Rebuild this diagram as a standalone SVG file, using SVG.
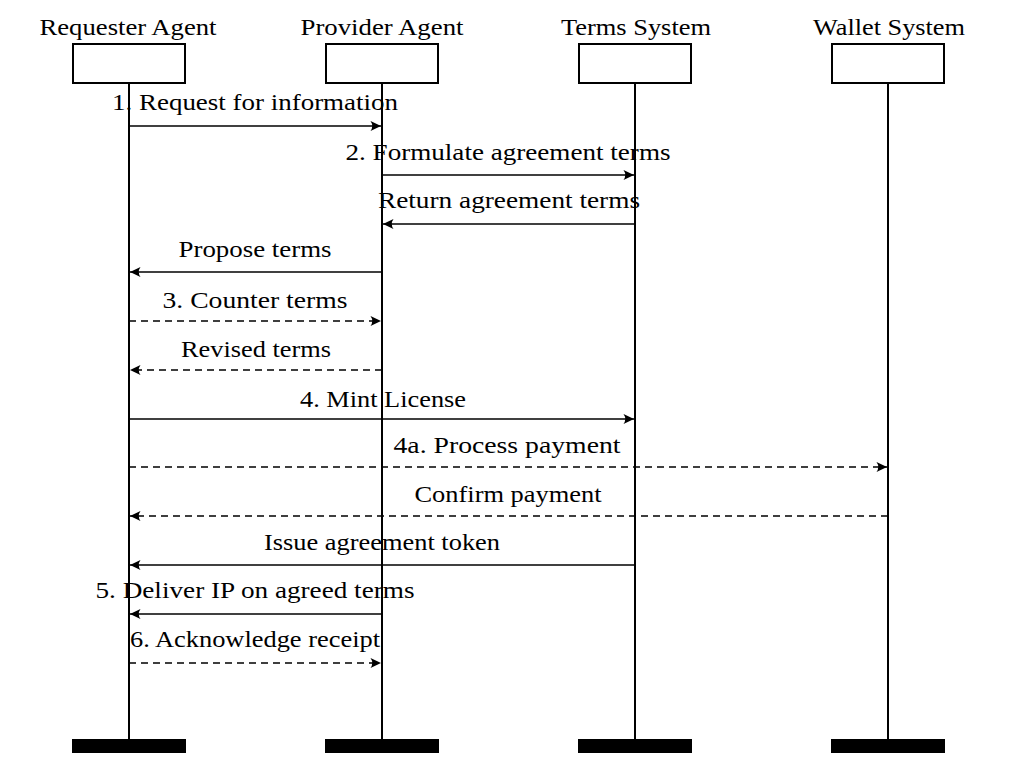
<svg xmlns="http://www.w3.org/2000/svg" width="1010" height="776" viewBox="0 0 1010 776">
<style>
text{font-family:"Liberation Serif","Times New Roman",serif;font-size:24px;fill:#000;text-anchor:middle}
.box{fill:#fff;stroke:#000;stroke-width:2}
.bar{fill:#000}
.life{stroke:#000;stroke-width:2;fill:none}
.msg{stroke:#000;stroke-width:1.7;fill:none;marker-end:url(#ah)}
.dash{stroke-dasharray:7 5}
</style>
<defs>
<marker id="ah" markerUnits="userSpaceOnUse" markerWidth="14" markerHeight="12" viewBox="-11 -6 12 12" refX="0" refY="0" orient="auto">
<path d="M0,0 L-10.5,-5 Q-7,0 -10.5,5 Z" fill="#000"/>
</marker>
</defs>
<rect width="1010" height="776" fill="#fff"/>
<g id="requester">
<text x="128" y="35" textLength="177" lengthAdjust="spacingAndGlyphs">Requester Agent</text>
<rect class="box" x="73" y="44" width="112" height="39"/>
<line class="life" x1="129" y1="83" x2="129" y2="740"/>
<rect class="bar" x="72" y="739" width="114" height="14"/>
</g>
<g id="provider">
<text x="382" y="35" textLength="163" lengthAdjust="spacingAndGlyphs">Provider Agent</text>
<rect class="box" x="326" y="44" width="112" height="39"/>
<line class="life" x1="382" y1="83" x2="382" y2="740"/>
<rect class="bar" x="325" y="739" width="114" height="14"/>
</g>
<g id="terms">
<text x="636" y="35" textLength="150" lengthAdjust="spacingAndGlyphs">Terms System</text>
<rect class="box" x="579" y="44" width="112" height="39"/>
<line class="life" x1="635" y1="83" x2="635" y2="740"/>
<rect class="bar" x="578" y="739" width="114" height="14"/>
</g>
<g id="wallet">
<text x="889" y="35" textLength="152" lengthAdjust="spacingAndGlyphs">Wallet System</text>
<rect class="box" x="832" y="44" width="112" height="39"/>
<line class="life" x1="888" y1="83" x2="888" y2="740"/>
<rect class="bar" x="831" y="739" width="114" height="14"/>
</g>
<g id="connectors">
<line class="msg" x1="129" y1="126" x2="381" y2="126"/>
<text x="255" y="110" textLength="286" lengthAdjust="spacingAndGlyphs">1. Request for information</text>
<line class="msg" x1="382" y1="175" x2="634" y2="175"/>
<text x="508" y="160" textLength="325" lengthAdjust="spacingAndGlyphs">2. Formulate agreement terms</text>
<line class="msg" x1="635" y1="224" x2="383" y2="224"/>
<text x="509" y="208" textLength="262" lengthAdjust="spacingAndGlyphs">Return agreement terms</text>
<line class="msg" x1="382" y1="272" x2="130" y2="272"/>
<text x="255" y="257" textLength="153" lengthAdjust="spacingAndGlyphs">Propose terms</text>
<line class="msg dash" x1="129" y1="321" x2="381" y2="321"/>
<text x="255" y="308" textLength="185" lengthAdjust="spacingAndGlyphs">3. Counter terms</text>
<line class="msg dash" x1="382" y1="370" x2="130" y2="370"/>
<text x="256" y="357" textLength="150" lengthAdjust="spacingAndGlyphs">Revised terms</text>
<line class="msg" x1="129" y1="419" x2="634" y2="419"/>
<text x="383" y="407" textLength="166" lengthAdjust="spacingAndGlyphs">4. Mint License</text>
<line class="msg dash" x1="129" y1="467" x2="887" y2="467"/>
<text x="507" y="453" textLength="227" lengthAdjust="spacingAndGlyphs">4a. Process payment</text>
<line class="msg dash" x1="888" y1="516" x2="130" y2="516"/>
<text x="508" y="502" textLength="187" lengthAdjust="spacingAndGlyphs">Confirm payment</text>
<line class="msg" x1="635" y1="565" x2="130" y2="565"/>
<text x="382" y="550" textLength="236" lengthAdjust="spacingAndGlyphs">Issue agreement token</text>
<line class="msg" x1="382" y1="614" x2="130" y2="614"/>
<text x="255" y="598" textLength="319" lengthAdjust="spacingAndGlyphs">5. Deliver IP on agreed terms</text>
<line class="msg dash" x1="129" y1="663" x2="381" y2="663"/>
<text x="255" y="647" textLength="250" lengthAdjust="spacingAndGlyphs">6. Acknowledge receipt</text>
</g>
</svg>
